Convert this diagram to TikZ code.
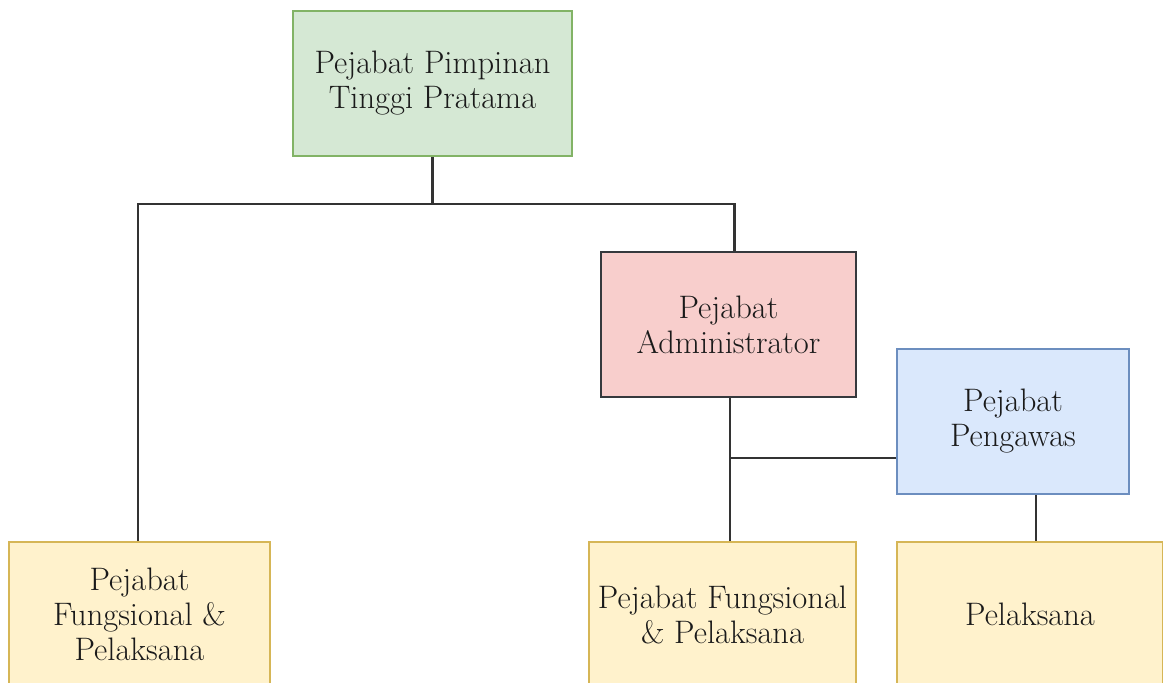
\documentclass[tikz,border=0pt]{standalone}
\usepackage{fontspec}
\definecolor{gfill}{HTML}{D5E8D4}\definecolor{gline}{HTML}{82B366}
\definecolor{rfill}{HTML}{F8CECC}\definecolor{rline}{HTML}{36393D}
\definecolor{bfill}{HTML}{DAE8FC}\definecolor{bline}{HTML}{6C8EBF}
\definecolor{yfill}{HTML}{FFF2CC}\definecolor{yline}{HTML}{D6B656}
\definecolor{edgec}{HTML}{333333}
\definecolor{txt}{HTML}{1A1A1A}
\tikzset{
  box/.style={draw, line width=2pt, rectangle, inner sep=0pt, align=center,
    text=txt, font=\fontsize{32.5}{35}\selectfont},
  conn/.style={draw=edgec, line width=2.5pt}
}
\begin{document}
\begin{tikzpicture}[x=1pt,y=-1pt]
\useasboundingbox (0,0) rectangle (1163,683);
\clip (0,0) rectangle (1163,683);
\fill[white] (0,0) rectangle (1163,683);
\node[box, fill=gfill, draw=gline, minimum width=279pt, minimum height=145pt] (top) at (432.5,83.5) {Pejabat Pimpinan\\Tinggi Pratama};
\node[box, fill=rfill, draw=rline, minimum width=255pt, minimum height=145pt] (adm) at (728.5,324.5) {Pejabat\\Administrator};
\node[box, fill=bfill, draw=bline, minimum width=232pt, minimum height=145pt] (peng) at (1013,421.5) {Pejabat\\Pengawas};
\node[box, fill=yfill, draw=yline, minimum width=261pt, minimum height=145pt] (fp1) at (139.5,614.5) {Pejabat\\Fungsional \&\\Pelaksana};
\node[box, fill=yfill, draw=yline, minimum width=267pt, minimum height=145pt] (fp2) at (722.5,614.5) {Pejabat Fungsional\\\& Pelaksana};
\node[box, fill=yfill, draw=yline, minimum width=266pt, minimum height=145pt] (pel) at (1030,614.5) {Pelaksana};
\coordinate (j1) at (432.5,204);
\coordinate (j2) at (730,458);
\draw[conn] (top.south) -- (j1);
\draw[conn] ([xshift=-1.5pt]fp1.north) |- (j1) -| ([xshift=6pt]adm.north);
\draw[conn] ([xshift=1.5pt]adm.south) -- ([xshift=7.5pt]fp2.north);
\draw[conn] (j2) -- (j2 -| peng.west);
\draw[conn] ([xshift=23pt]peng.south) -- ([xshift=6pt]pel.north);
\end{tikzpicture}
\end{document}
